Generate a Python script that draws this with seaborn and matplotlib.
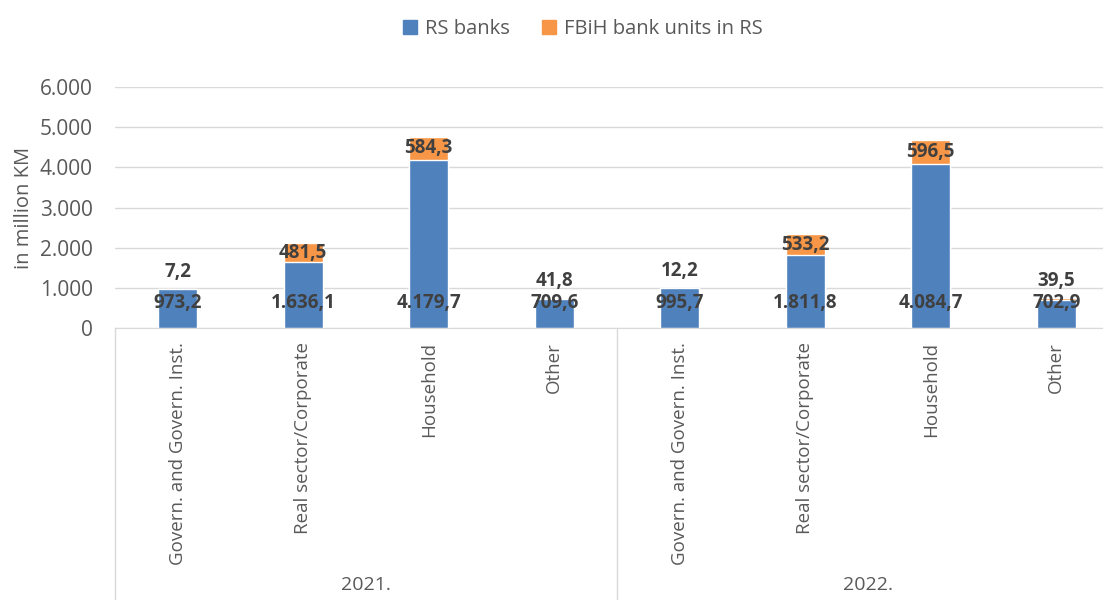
import numpy as np
import pandas as pd
import seaborn as sns
import matplotlib.pyplot as plt
import matplotlib.transforms as mtransforms
from matplotlib.patches import Patch

# Données du graphique
years = ["2021.", "2022."]
categories = ["Govern. and Govern. Inst.", "Real sector/Corporate", "Household", "Other"]
rs_banks = [973.2, 1636.1, 4179.7, 709.6, 995.7, 1811.8, 4084.7, 702.9]
fbih_units = [7.2, 481.5, 584.3, 41.8, 12.2, 533.2, 596.5, 39.5]
series_names = ["RS banks", "FBiH bank units in RS"]
y_ticks = [0, 1000, 2000, 3000, 4000, 5000, 6000]

BLUE = "#4F81BD"
ORANGE = "#F79646"
GRID = "#D9D9D9"
TEXT = "#595959"
LABEL = "#404040"


def fmt_num(v, dec=1):
    s = f"{v:,.{dec}f}"
    return s.replace(",", "X").replace(".", ",").replace("X", ".")


sns.set_style("white")
plt.rcParams["font.family"] = ["Open Sans", "DejaVu Sans"]

df = pd.DataFrame({
    "slot": np.arange(len(rs_banks)),
    "year": [y for y in years for _ in categories],
    "category": categories * len(years),
    "rs": rs_banks,
    "fbih": fbih_units,
})
df["total"] = df["rs"] + df["fbih"]

fig = plt.figure(figsize=(11.03, 6.0), dpi=100)
# l'axe dépasse à droite, comme dans l'original (coupé)
ax = fig.add_axes([115 / 1103, 272 / 600, 1004 / 1103, 241 / 600])

sns.barplot(data=df, x="slot", y="total", color=ORANGE, width=0.31,
            saturation=1, ax=ax, errorbar=None)
sns.barplot(data=df, x="slot", y="rs", color=BLUE, width=0.31,
            saturation=1, ax=ax, errorbar=None)

ax.set_xlim(-0.5, len(rs_banks) - 0.5)
ax.set_ylim(0, 6000)
ax.set_yticks(y_ticks)
ax.set_yticklabels([fmt_num(t, 0) for t in y_ticks], fontsize=15, color=TEXT)
ax.tick_params(axis="y", length=0, pad=16)
ax.yaxis.grid(True, color=GRID, linewidth=1)
ax.set_axisbelow(True)
for side in ["top", "right", "left"]:
    ax.spines[side].set_visible(False)
ax.spines["bottom"].set_color(GRID)
ax.set_ylabel("in million KM", fontsize=14.5, color=TEXT, labelpad=4)
ax.set_xlabel("")

ax.set_xticks(df["slot"])
ax.set_xticklabels(df["category"], rotation=90, fontsize=13.5, color=TEXT,
                   va="top", ha="center")
ax.tick_params(axis="x", length=0, pad=10)

# Étiquettes de valeurs
for _, row in df.iterrows():
    ax.annotate(fmt_num(row["rs"]), (row["slot"], 0), xytext=(0, 25),
                textcoords="offset pixels", ha="center", va="center",
                fontsize=13.5, fontweight="bold", color=LABEL)
    if row["fbih"] > 100:
        ax.text(row["slot"], row["rs"] + row["fbih"] / 2, fmt_num(row["fbih"]),
                ha="center", va="center", fontsize=13.5, fontweight="bold", color=LABEL)
    else:
        ax.annotate(fmt_num(row["fbih"]), (row["slot"], row["total"]),
                    xytext=(0, 17), textcoords="offset pixels", ha="center",
                    va="center", fontsize=13.5, fontweight="bold", color=LABEL)

# Axe hiérarchique (années)
trans = mtransforms.blended_transform_factory(ax.transData, ax.transAxes)
n = len(categories)
for k in range(len(years) + 1):
    xpos = k * n - 0.5
    ax.plot([xpos, xpos], [0, -1.35], transform=trans, color=GRID,
            linewidth=1, clip_on=False)
for k, yr in enumerate(years):
    ax.text(k * n + (n - 1) / 2, -1.03, yr, transform=trans, ha="center",
            va="top", fontsize=14, color=TEXT)

handles = [Patch(color=BLUE), Patch(color=ORANGE)]
fig.legend(handles, series_names, loc="center", bbox_to_anchor=(583 / 1103, 1 - 29 / 600),
           ncol=2, frameon=False, fontsize=14.5, handlelength=0.7, handleheight=0.7,
           handletextpad=0.4, columnspacing=1.6, labelcolor=TEXT)

fig.savefig("out.png", dpi=100)
